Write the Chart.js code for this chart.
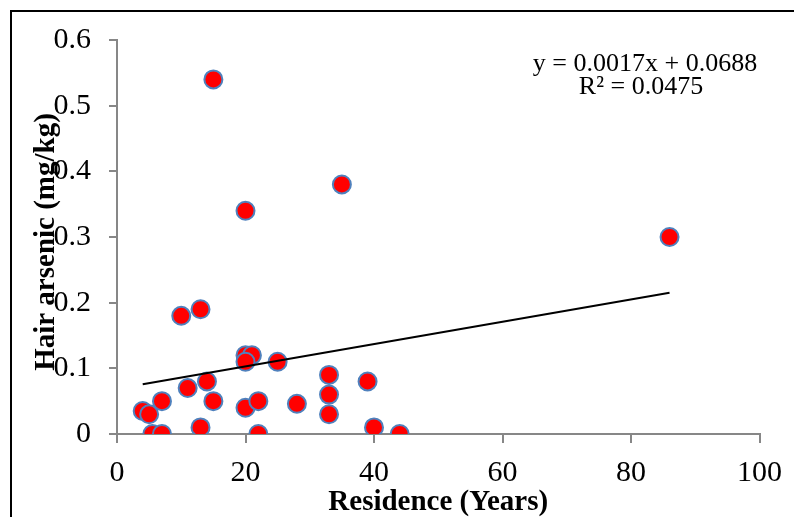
<!DOCTYPE html>
<html>
<head>
<meta charset="utf-8">
<script src="https://cdn.jsdelivr.net/npm/chart.js@4.4.0/dist/chart.umd.min.js"></script>
<style>
html, body { margin: 0; padding: 0; background: #fff; overflow: hidden; }
#wrap { position: relative; width: 794px; height: 517px; }
#frame { position: absolute; left: 10px; top: 10px; width: 800px; height: 520px; border: 2px solid #000; }
canvas { position: absolute; left: 0; top: 0; }
</style>
</head>
<body>
<div id="wrap">
  <div id="frame"></div>
  <canvas id="chart" width="794" height="517"></canvas>
</div>
<script>
// Residence (years) vs hair arsenic (mg/kg)
const residenceYears = [4, 5, 5.5, 7, 7, 10, 11, 13, 13, 14, 15, 15, 20, 20, 21, 20, 20, 22, 22, 25, 28, 33, 33, 33, 35, 39, 40, 44, 86];
const hairArsenic = [0.035, 0.03, 0, 0, 0.05, 0.18, 0.07, 0.19, 0.01, 0.08, 0.54, 0.05, 0.34, 0.12, 0.12, 0.11, 0.04, 0.05, 0, 0.11, 0.046, 0.09, 0.06, 0.03, 0.38, 0.08, 0.01, 0, 0.3];

// linear trendline end points
const trendX = [4, 86];
const trendY = [0.0756, 0.215];

const xTicks = [0, 20, 40, 60, 80, 100];
const yTicks = [0, 0.1, 0.2, 0.3, 0.4, 0.5, 0.6];

const equationLines = ['y = 0.0017x + 0.0688', 'R\u00b2 = 0.0475'];
const xTitle = 'Residence (Years)';
const yTitle = 'Hair arsenic (mg/kg)';

const serif = '"Liberation Serif", "Times New Roman", serif';
const axisGrey = '#878787';

// axis titles and the trendline label
const textPlugin = {
    id: 'textPlugin',
    afterDraw(chart) {
        const ctx = chart.ctx;
        const area = chart.chartArea;
        ctx.save();
        ctx.fillStyle = '#000';
        ctx.textAlign = 'center';
        ctx.textBaseline = 'middle';

        ctx.font = '26px ' + serif;
        ctx.fillText(equationLines[0], 645, 64);
        ctx.fillText(equationLines[1], 641, 87);

        ctx.font = 'bold 29px ' + serif;
        ctx.fillText(xTitle, (area.left + area.right) / 2, 503);

        ctx.translate(47, 242);
        ctx.rotate(-Math.PI / 2);
        ctx.fillText(yTitle, 0, 0);
        ctx.restore();
    }
};

const points = residenceYears.map((x, i) => ({ x: x, y: hairArsenic[i] }));
const trend = trendX.map((x, i) => ({ x: x, y: trendY[i] }));

new Chart(document.getElementById('chart'), {
    type: 'scatter',
    data: {
        datasets: [
            {
                type: 'line',
                data: trend,
                borderColor: '#000',
                borderWidth: 2,
                pointRadius: 0,
                fill: false,
                order: 0
            },
            {
                data: points,
                backgroundColor: '#ff0000',
                borderColor: '#4f81bd',
                borderWidth: 2,
                pointRadius: 9,
                pointHoverRadius: 9,
                order: 1
            }
        ]
    },
    options: {
        responsive: false,
        animation: false,
        layout: { padding: { top: 40, right: 29, left: 0, bottom: 0 } },
        plugins: {
            legend: { display: false },
            tooltip: { enabled: false }
        },
        scales: {
            x: {
                type: 'linear',
                min: 0,
                max: 100,
                afterFit(scale) { scale.height = 83; },
                afterBuildTicks(scale) { scale.ticks = xTicks.map(v => ({ value: v })); },
                grid: { drawOnChartArea: false, color: axisGrey, lineWidth: 2, tickLength: 9 },
                border: { color: axisGrey, width: 2 },
                ticks: { color: '#000', font: { family: serif, size: 30 }, padding: 12 }
            },
            y: {
                type: 'linear',
                min: 0,
                max: 0.6,
                afterFit(scale) { scale.width = 117; },
                afterBuildTicks(scale) { scale.ticks = yTicks.map(v => ({ value: v })); },
                grid: { drawOnChartArea: false, color: axisGrey, lineWidth: 2, tickLength: 8 },
                border: { color: axisGrey, width: 2 },
                ticks: {
                    color: '#000',
                    font: { family: serif, size: 30 },
                    padding: 18,
                    callback: v => String(+v.toFixed(1))
                }
            }
        }
    },
    plugins: [textPlugin]
});
</script>
</body>
</html>
